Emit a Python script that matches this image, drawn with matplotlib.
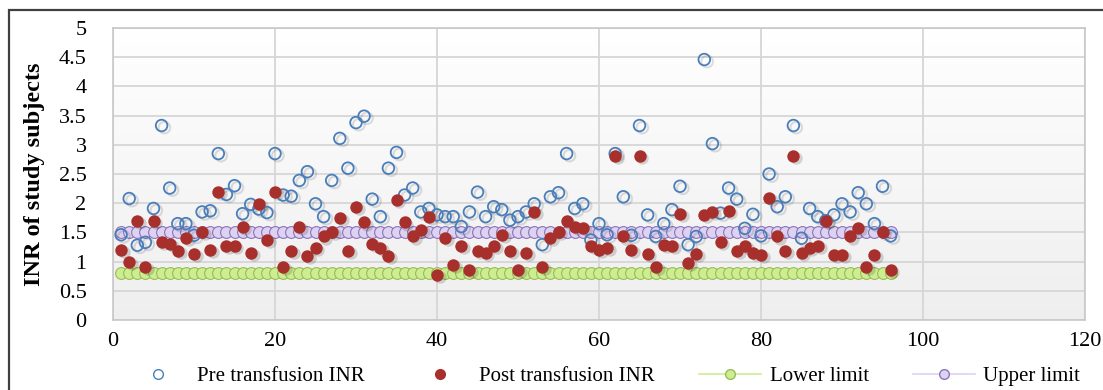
import numpy as np
import matplotlib
matplotlib.use("Agg")
from matplotlib import pyplot as plt
from matplotlib.lines import Line2D
from matplotlib.patches import Rectangle

# subject number 1..96
subjects = np.arange(1, 97)

pre_inr = [1.46, 2.08, 1.28, 1.33, 1.91, 3.33, 2.26, 1.65, 1.65, 1.45,
           1.85, 1.87, 2.85, 2.15, 2.30, 1.82, 1.98, 1.90, 1.84, 2.85,
           2.14, 2.12, 2.39, 2.54, 1.99, 1.77, 2.39, 3.11, 2.60, 3.38,
           3.49, 2.07, 1.77, 2.60, 2.87, 2.14, 2.26, 1.85, 1.91, 1.80,
           1.77, 1.77, 1.60, 1.85, 2.19, 1.77, 1.94, 1.89, 1.71, 1.77,
           1.85, 1.99, 1.29, 2.11, 2.18, 2.85, 1.91, 1.99, 1.37, 1.65,
           1.46, 2.85, 2.11, 1.45, 3.33, 1.80, 1.43, 1.65, 1.89, 2.29,
           1.29, 1.43, 4.46, 3.02, 1.83, 2.26, 2.07, 1.57, 1.81, 1.44,
           2.50, 1.94, 2.11, 3.33, 1.40, 1.91, 1.77, 1.70, 1.80, 1.99,
           1.85, 2.18, 1.99, 1.65, 2.29, 1.44]

post_inr = [1.20, 0.99, 1.69, 0.91, 1.69, 1.33, 1.30, 1.19, 1.40, 1.13,
            1.51, 1.20, 2.19, 1.26, 1.26, 1.60, 1.15, 1.99, 1.37, 2.19,
            0.91, 1.19, 1.60, 1.09, 1.23, 1.43, 1.50, 1.74, 1.19, 1.94,
            1.67, 1.30, 1.23, 1.09, 2.06, 1.67, 1.43, 1.54, 1.77, 0.77,
            1.40, 0.95, 1.26, 0.85, 1.19, 1.14, 1.26, 1.46, 1.19, 0.85,
            1.14, 1.85, 0.91, 1.40, 1.51, 1.69, 1.60, 1.57, 1.27, 1.20,
            1.23, 2.81, 1.43, 1.20, 2.81, 1.13, 0.91, 1.29, 1.26, 1.81,
            0.97, 1.13, 1.80, 1.85, 1.33, 1.87, 1.19, 1.26, 1.14, 1.11,
            2.09, 1.43, 1.19, 2.81, 1.14, 1.23, 1.26, 1.69, 1.11, 1.11,
            1.43, 1.57, 0.91, 1.11, 1.51, 0.85]

lower_limit = [0.8] * 96
upper_limit = [1.5] * 96

x_ticks = [0, 20, 40, 60, 80, 100, 120]
y_ticks = [0, 0.5, 1, 1.5, 2, 2.5, 3, 3.5, 4, 4.5, 5]
y_ticklabels = ["0", "0.5", "1", "1.5", "2", "2.5", "3", "3.5", "4", "4.5", "5"]

serif = ["Liberation Serif", "DejaVu Serif"]
plt.rcParams["font.family"] = serif

fig = plt.figure(figsize=(11.03, 3.90), dpi=100)
W, H = 1103, 390
ax = fig.add_axes([113 / W, 1 - 320 / H, 972 / W, 292 / H])

# outer chart border
fig.patches.append(Rectangle((9 / W, -0.1), 1.2, 1 - 10 / H + 0.1,
                             transform=fig.transFigure, fill=False,
                             edgecolor="#404040", linewidth=1.6))

# soft gradient background of the plot area (white at top, light grey below)
shade = np.linspace(0.935, 1.0, 256).reshape(-1, 1, 1) * np.ones((1, 1, 3))
ax.imshow(shade, extent=[0, 120, 0, 5], aspect="auto", zorder=0,
          origin="lower")

ax.set_xlim(0, 120)
ax.set_ylim(0, 5)
ax.set_xticks(x_ticks)
ax.set_yticks(y_ticks)
ax.set_yticklabels(y_ticklabels)
ax.grid(True, color="#d6d6d6", linewidth=1.3, zorder=1)
ax.set_axisbelow(True)
ax.tick_params(length=0, labelsize=16)
ax.tick_params(axis="y", pad=19)
ax.tick_params(axis="x", pad=9)
for s in ax.spines.values():
    s.set_color("#c8c8c8")
    s.set_linewidth(1.2)

green_face, green_edge = "#cdee90", "#9bbb59"
purple_face, purple_edge = "#ddd2f2", "#8c74b8"
blue_edge = "#4a7ebb"
red_face = "#a8302c"

ax.plot(subjects, lower_limit, color=green_edge, linewidth=1, marker="o",
        markersize=8.5, markerfacecolor=green_face, markeredgecolor=green_edge,
        markeredgewidth=0.8, zorder=3)
ax.plot(subjects, upper_limit, color=purple_edge, linewidth=1, marker="o",
        markersize=8.5, markerfacecolor=purple_face, markeredgecolor=purple_edge,
        markeredgewidth=0.8, zorder=3)

# faint shadows under the data points
ax.scatter(subjects + 0.35, np.array(pre_inr) - 0.035, s=70, facecolor="none",
           edgecolor="#000000", alpha=0.12, linewidth=1.5, zorder=3.5)
ax.scatter(subjects + 0.35, np.array(post_inr) - 0.035, s=80, color="#000000",
           alpha=0.15, linewidth=0, zorder=3.5)

ax.scatter(subjects, pre_inr, s=70, facecolor="none", edgecolor=blue_edge,
           linewidth=1.3, zorder=4)
ax.scatter(subjects, post_inr, s=80, color=red_face, linewidth=0, zorder=5)

ax.set_ylabel("INR of study subjects", fontsize=17.5, fontweight="bold")
ax.yaxis.set_label_coords(-68 / 972, 0.5)

handles = [
    Line2D([], [], linestyle="none", marker="o", markersize=7,
           markerfacecolor="none", markeredgecolor=blue_edge, markeredgewidth=1),
    Line2D([], [], linestyle="none", marker="o", markersize=7,
           markerfacecolor=red_face, markeredgecolor=red_face),
    Line2D([], [], color=green_face, linewidth=1.2, marker="o", markersize=7,
           markerfacecolor=green_face, markeredgecolor=green_edge),
    Line2D([], [], color=purple_face, linewidth=1.2, marker="o", markersize=7,
           markerfacecolor=purple_face, markeredgecolor=purple_edge),
]
labels = ["Pre transfusion INR", "Post transfusion INR", "Lower limit",
          "Upper limit"]
fig.legend(handles, labels, loc="center", bbox_to_anchor=(0.547, 1 - 376 / H),
           ncol=4, frameon=False, fontsize=15, handlelength=3.0,
           handletextpad=0.4, columnspacing=2.1)

fig.savefig("out.png", dpi=100)
